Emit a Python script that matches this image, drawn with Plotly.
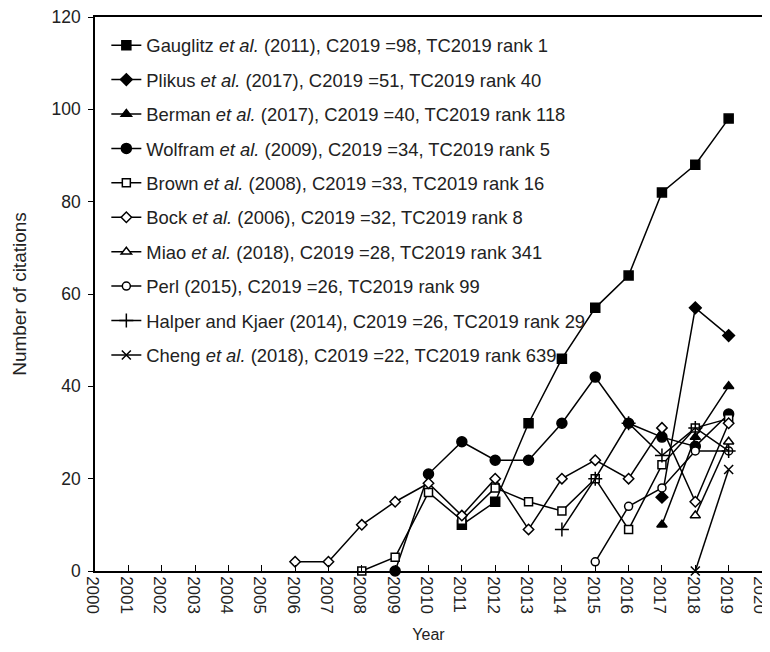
import plotly.graph_objects as go

# ---- data ----
names = [
    "Gauglitz <i>et al.</i> (2011), C2019 =98, TC2019 rank 1",
    "Plikus <i>et al.</i> (2017), C2019 =51, TC2019 rank 40",
    "Berman <i>et al.</i> (2017), C2019 =40, TC2019 rank 118",
    "Wolfram <i>et al.</i> (2009), C2019 =34, TC2019 rank 5",
    "Brown <i>et al.</i> (2008), C2019 =33, TC2019 rank 16",
    "Bock <i>et al.</i> (2006), C2019 =32, TC2019 rank 8",
    "Miao <i>et al.</i> (2018), C2019 =28, TC2019 rank 341",
    "Perl (2015), C2019 =26, TC2019 rank 99",
    "Halper and Kjaer (2014), C2019 =26, TC2019 rank 29",
    "Cheng <i>et al.</i> (2018), C2019 =22, TC2019 rank 639",
]

gauglitz_years = [2011, 2012, 2013, 2014, 2015, 2016, 2017, 2018, 2019]
gauglitz_vals = [10, 15, 32, 46, 57, 64, 82, 88, 98]

plikus_years = [2017, 2018, 2019]
plikus_vals = [16, 57, 51]

berman_years = [2017, 2018, 2019]
berman_vals = [10, 29, 40]

wolfram_years = [2009, 2010, 2011, 2012, 2013, 2014, 2015, 2016, 2017, 2018, 2019]
wolfram_vals = [0, 21, 28, 24, 24, 32, 42, 32, 29, 27, 34]

brown_years = [2008, 2009, 2010, 2011, 2012, 2013, 2014, 2015, 2016, 2017, 2018, 2019]
brown_vals = [0, 3, 17, 11, 18, 15, 13, 20, 9, 23, 31, 33]

bock_years = [2006, 2007, 2008, 2009, 2010, 2011, 2012, 2013, 2014, 2015, 2016, 2017, 2018, 2019]
bock_vals = [2, 2, 10, 15, 19, 12, 20, 9, 20, 24, 20, 31, 15, 32]

miao_years = [2018, 2019]
miao_vals = [12, 28]

perl_years = [2015, 2016, 2017, 2018, 2019]
perl_vals = [2, 14, 18, 26, 26]

halper_years = [2014, 2015, 2016, 2017, 2018, 2019]
halper_vals = [9, 20, 32, 25, 31, 26]

cheng_years = [2018, 2019]
cheng_vals = [0, 22]

x_ticks = list(range(2000, 2021))
y_ticks = [0, 20, 40, 60, 80, 100, 120]

# ---- styles ----
series = [
    (gauglitz_years, gauglitz_vals, "square", "black", 9),
    (plikus_years, plikus_vals, "diamond", "black", 9),
    (berman_years, berman_vals, "triangle-up", "black", 9),
    (wolfram_years, wolfram_vals, "circle", "black", 10),
    (brown_years, brown_vals, "square", "white", 8),
    (bock_years, bock_vals, "diamond", "white", 8),
    (miao_years, miao_vals, "triangle-up", "white", 9),
    (perl_years, perl_vals, "circle", "white", 8),
    (halper_years, halper_vals, "cross-thin", "black", 10),
    (cheng_years, cheng_vals, "x-thin", "black", 9),
]

fig = go.Figure()
for i, ((xs, ys, sym, fill, size), name) in enumerate(zip(series, names)):
    thin = sym.endswith("-thin")
    fig.add_trace(go.Scatter(
        x=xs, y=ys, name=name, mode="lines+markers",
        legendgroup=f"g{i}",
        line=dict(color="black", width=1.5),
        marker=dict(symbol=sym, size=size, color="black" if thin else fill,
                    line=dict(color="black", width=1.5)),
        cliponaxis=False,
    ))

font_family = "Liberation Sans, Arial, sans-serif"
fig.update_layout(
    width=770, height=652,
    margin=dict(l=87, r=16, t=9, b=89),
    paper_bgcolor="white", plot_bgcolor="white",
    font=dict(family=font_family, color="#222", size=16),
    showlegend=True,
    legend=dict(x=0.017, y=0.9825, xanchor="left", yanchor="top",
                bgcolor="rgba(0,0,0,0)", font=dict(size=18.4, color="#222"),
                tracegroupgap=7.5, itemwidth=30),
    xaxis=dict(range=[2000, 2020], tickvals=x_ticks, ticktext=[str(t) for t in x_ticks],
               tickangle=90, ticks="inside", ticklen=6, tickcolor="black",
               ticklabeloverflow="allow", ticklabelshift=-2, automargin=False,
               showline=True, linecolor="black", linewidth=1.5, mirror=True,
               showgrid=False, zeroline=False,
               tickfont=dict(size=17, color="#222"),
               title=dict(text="Year", font=dict(size=16, color="#222"), standoff=16)),
    yaxis=dict(range=[0, 120], tickvals=y_ticks,
               ticks="outside", ticklen=5, tickcolor="black",
               ticklabelstandoff=4, ticklabeloverflow="allow", automargin=False,
               showline=True, linecolor="black", linewidth=1.5, mirror=True,
               showgrid=False, zeroline=False,
               tickfont=dict(size=17.5, color="#222"),
               title=dict(text="Number of citations", font=dict(size=19, color="#222"), standoff=20)),
)

fig.write_html("out.html")
